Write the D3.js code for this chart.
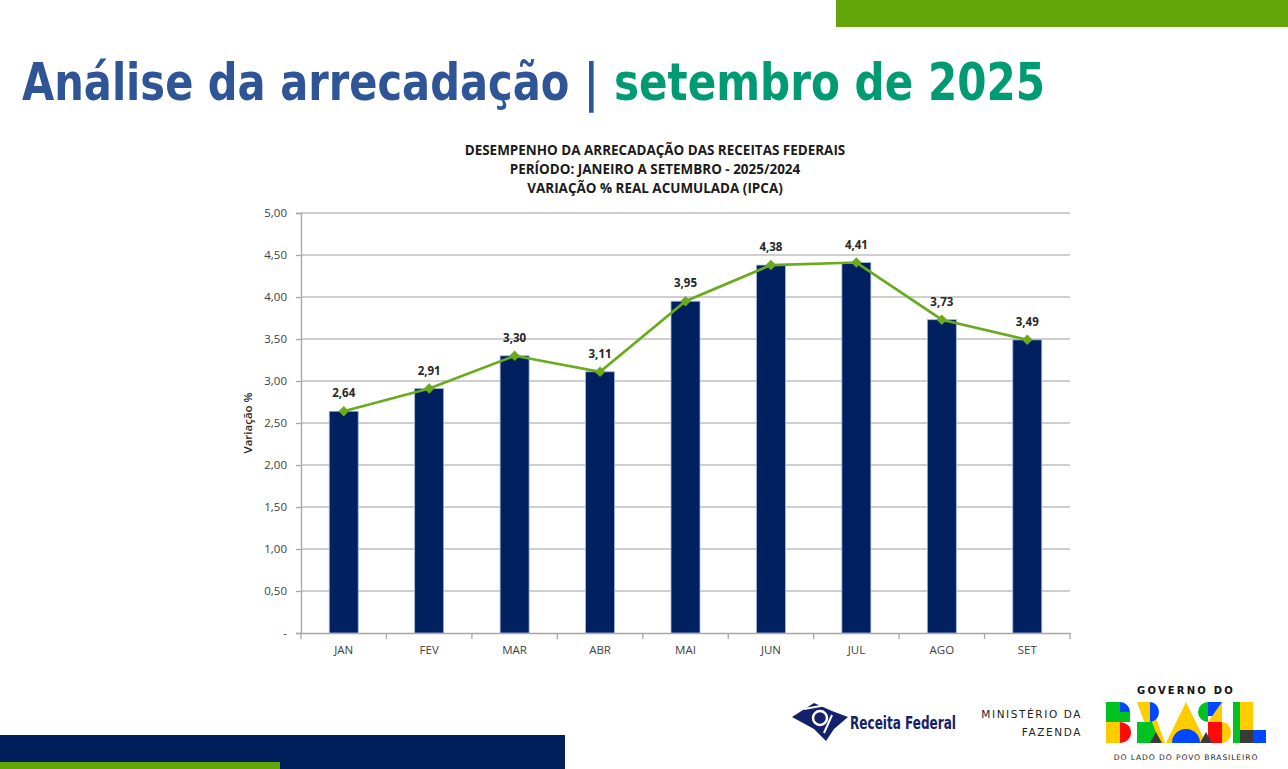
<!DOCTYPE html>
<html>
<head>
<meta charset="utf-8">
<script src="https://cdn.jsdelivr.net/npm/d3@7"></script>
<style>
  html, body { margin: 0; padding: 0; background: #fff; }
  svg { display: block; }
</style>
</head>
<body>
<svg id="chart" width="1288" height="769"></svg>
<script>
// ---- data ----
const categories = ["JAN", "FEV", "MAR", "ABR", "MAI", "JUN", "JUL", "AGO", "SET"];
const values = [2.64, 2.91, 3.30, 3.11, 3.95, 4.38, 4.41, 3.73, 3.49];
const yTicks = [0, 0.5, 1, 1.5, 2, 2.5, 3, 3.5, 4, 4.5, 5];
const chartTitleLines = [
  "DESEMPENHO DA ARRECADAÇÃO DAS RECEITAS FEDERAIS",
  "PERÍODO: JANEIRO A SETEMBRO - 2025/2024",
  "VARIAÇÃO % REAL ACUMULADA (IPCA)"
];
const pageTitle = ["Análise da arrecadação |", "setembro de 2025"];
const yAxisLabel = "Variação %";

const svg = d3.select("#chart");
const fmt = v => v === 0 ? "-" : v.toFixed(2).replace(".", ",");

// ---- page decorations ----
svg.append("rect").attr("x", 836).attr("y", 0).attr("width", 452).attr("height", 27).attr("fill", "#62A60A");
svg.append("rect").attr("x", 0).attr("y", 735).attr("width", 565).attr("height", 34).attr("fill", "#001F5B");
svg.append("rect").attr("x", 0).attr("y", 762).attr("width", 280).attr("height", 7).attr("fill", "#62A60A");

// page title (two separate texts)
const titleFamily = "'DejaVu Sans Condensed', 'DejaVu Sans', sans-serif";
svg.append("text").attr("x", 22).attr("y", 100)
  .attr("font-family", titleFamily).attr("font-weight", "bold").attr("font-size", 51)
  .attr("textLength", 577).attr("lengthAdjust", "spacingAndGlyphs")
  .attr("fill", "#2F5597").text(pageTitle[0]);
svg.append("text").attr("x", 614).attr("y", 100)
  .attr("font-family", titleFamily).attr("font-weight", "bold").attr("font-size", 51)
  .attr("textLength", 431).attr("lengthAdjust", "spacingAndGlyphs")
  .attr("fill", "#009B72").text(pageTitle[1]);

// ---- chart ----
const margin = { left: 301, right: 1070, top: 213, bottom: 633 };
const x = d3.scaleBand().domain(categories).range([margin.left, margin.right]).paddingInner(0).paddingOuter(0);
const y = d3.scaleLinear().domain([0, 5]).range([margin.bottom, margin.top]);

// chart titles
const titleFont = "'Open Sans', 'DejaVu Sans', sans-serif";
const tg = svg.append("g");
const titleYs = [155, 174, 193];
chartTitleLines.forEach((t, i) => {
  tg.append("text").attr("x", 655).attr("y", titleYs[i]).attr("text-anchor", "middle")
    .attr("font-family", titleFont).attr("font-weight", "bold").attr("font-size", 12)
    .attr("fill", "#1a1a1a").text(t);
});
{
  const n = tg.select("text").node();
  const w = n.getComputedTextLength();
  const fs = 12 * 381 / w;
  tg.selectAll("text").attr("font-size", fs);
}

// gridlines
svg.append("g").selectAll("line").data(yTicks.filter(d => d > 0)).join("line")
  .attr("x1", margin.left).attr("x2", margin.right)
  .attr("y1", d => y(d)).attr("y2", d => y(d))
  .attr("stroke", "#BFBFBF").attr("stroke-width", 1.3);

// y axis
const yAxis = svg.append("g").attr("transform", `translate(${margin.left},0)`)
  .call(d3.axisLeft(y).tickValues(yTicks).tickFormat(fmt).tickSize(5).tickPadding(9));
yAxis.select(".domain").attr("stroke", "#A6A6A6").attr("stroke-width", 1.3);
yAxis.selectAll(".tick line").attr("stroke", "#A6A6A6").attr("stroke-width", 1.3);
yAxis.selectAll("text").attr("font-family", titleFont).attr("font-size", 11.5).attr("fill", "#404040");

// x axis
const xAxis = svg.append("g").attr("transform", `translate(0,${margin.bottom})`)
  .call(d3.axisBottom(x).tickSize(0).tickPadding(13));
xAxis.select(".domain").attr("stroke", "#A6A6A6").attr("stroke-width", 1.3);
xAxis.selectAll("text").attr("font-family", titleFont).attr("font-size", 11.5).attr("fill", "#404040");
// boundary ticks
const bounds = categories.map(c => x(c)).concat([x(categories[categories.length - 1]) + x.bandwidth()]);
xAxis.selectAll(".bound").data(bounds).join("line").attr("class", "bound")
  .attr("x1", d => d).attr("x2", d => d).attr("y1", 0).attr("y2", 6)
  .attr("stroke", "#A6A6A6").attr("stroke-width", 1.3);

// y label
svg.append("text").attr("transform", `translate(252,423) rotate(-90)`)
  .attr("text-anchor", "middle").attr("font-family", titleFont).attr("font-size", 11.5)
  .attr("font-weight", "600").attr("fill", "#262626").text(yAxisLabel);

// bars
const barW = 29;
svg.append("g").selectAll("rect").data(values).join("rect")
  .attr("x", (d, i) => x(categories[i]) + x.bandwidth() / 2 - barW / 2)
  .attr("y", d => y(d)).attr("width", barW).attr("height", d => y(0) - y(d))
  .attr("fill", "#002060").attr("stroke", "#A9B9D6").attr("stroke-width", 0.8);

// line
const cx = (i) => x(categories[i]) + x.bandwidth() / 2;
svg.append("path").datum(values)
  .attr("d", d3.line().x((d, i) => cx(i)).y(d => y(d)))
  .attr("fill", "none").attr("stroke", "#6AAB1E").attr("stroke-width", 2.6);

svg.append("g").selectAll("path").data(values).join("path")
  .attr("transform", (d, i) => `translate(${cx(i)},${y(d)})`)
  .attr("d", d3.symbol(d3.symbolDiamond2, 70))
  .attr("fill", "#6AAB1E");

// data labels
svg.append("g").selectAll("text").data(values).join("text")
  .attr("x", (d, i) => cx(i)).attr("y", d => y(d) - 14)
  .attr("text-anchor", "middle").attr("font-family", titleFont).attr("font-weight", "bold")
  .attr("font-size", 11.5).attr("fill", "#262626").text(fmt);

// ---- footer logos ----
// Receita Federal emblem
const rf = svg.append("g").attr("transform", "translate(820,721)");
rf.append("path").attr("d", "M-28,-4 L-6,-18 L12,-10 L28,-4 L14,8 L6,20 L-6,8 Z").attr("fill", "#14216B");
rf.append("circle").attr("cx", 0).attr("cy", -3).attr("r", 7).attr("fill", "none").attr("stroke", "#fff").attr("stroke-width", 2.5);
rf.append("path").attr("d", "M-16,-12 L6,-16").attr("stroke", "#fff").attr("stroke-width", 2);
rf.append("path").attr("d", "M12,-6 L4,12").attr("stroke", "#fff").attr("stroke-width", 2);
svg.append("text").attr("x", 850).attr("y", 729)
  .attr("font-family", "'DejaVu Sans Condensed', 'Liberation Sans', sans-serif").attr("font-weight", "bold")
  .attr("font-size", 18).attr("fill", "#14216B").attr("textLength", 106).attr("lengthAdjust", "spacingAndGlyphs")
  .text("Receita Federal");

// Ministério da Fazenda
["MINISTÉRIO DA", "FAZENDA"].forEach((t, i) => {
  svg.append("text").attr("x", 1082).attr("y", 718 + i * 18).attr("text-anchor", "end")
    .attr("font-family", "'DejaVu Sans', sans-serif").attr("font-size", 10.5).attr("letter-spacing", 1.6)
    .attr("fill", "#222").text(t);
});

// Governo do Brasil
svg.append("text").attr("x", 1186).attr("y", 694).attr("text-anchor", "middle")
  .attr("font-family", "'DejaVu Sans', sans-serif").attr("font-weight", "bold").attr("font-size", 10)
  .attr("letter-spacing", 2.2).attr("fill", "#111").text("GOVERNO DO");
svg.append("text").attr("x", 1186).attr("y", 760).attr("text-anchor", "middle")
  .attr("font-family", "'DejaVu Sans', sans-serif").attr("font-size", 7.6)
  .attr("letter-spacing", 0.9).attr("fill", "#222").text("DO LADO DO POVO BRASILEIRO");

const gb = svg.append("g");
const G = "#00C220", Y = "#FFCC00", B = "#0047FF", R = "#FF0A0A", K = "#3A3A3A";
// B
gb.append("rect").attr("x", 1106).attr("y", 702).attr("width", 14).attr("height", 20).attr("fill", G);
gb.append("rect").attr("x", 1106).attr("y", 722).attr("width", 14).attr("height", 21).attr("fill", Y);
gb.append("path").attr("d", "M1120,702 A10,10 0 0 1 1120,722 Z").attr("fill", B);
gb.append("path").attr("d", "M1120,722 A11,10.5 0 0 1 1120,743 Z").attr("fill", R);
gb.append("rect").attr("x", 1120).attr("y", 712).attr("width", 10).attr("height", 10).attr("fill", G);
// R
gb.append("path").attr("d", "M1137,702 L1150,702 L1165,743 L1152,743 Z").attr("fill", Y);
gb.append("path").attr("d", "M1150,702 A9,10 0 0 1 1150,722 Z").attr("fill", B);
gb.append("path").attr("d", "M1137,722 L1152,722 L1160,743 L1137,743 Z").attr("fill", G);
gb.append("path").attr("d", "M1150,743 L1156,732 L1162,743 Z").attr("fill", K);
// A
gb.append("path").attr("d", "M1186,702 L1206,743 L1166,743 Z").attr("fill", Y);
gb.append("path").attr("d", "M1172,743 A14,14 0 0 1 1200,743 Z").attr("fill", B);
// S
gb.append("rect").attr("x", 1208).attr("y", 702).attr("width", 14).attr("height", 14).attr("fill", B);
gb.append("path").attr("d", "M1222,702 L1222,722 L1208,722 Z").attr("fill", Y);
gb.append("rect").attr("x", 1208).attr("y", 722).attr("width", 14).attr("height", 21).attr("fill", R);
gb.append("path").attr("d", "M1208,722 A10,10 0 0 1 1208,702 Z").attr("fill", G);
gb.append("path").attr("d", "M1222,722 A9,10.5 0 0 1 1222,743 Z").attr("fill", Y);
gb.append("path").attr("d", "M1200,743 L1206,732 L1212,743 Z").attr("fill", K);
// I
gb.append("rect").attr("x", 1233).attr("y", 702).attr("width", 10).attr("height", 41).attr("fill", G);
// L
gb.append("rect").attr("x", 1240).attr("y", 702).attr("width", 13).attr("height", 28).attr("fill", Y);
gb.append("rect").attr("x", 1240).attr("y", 730).attr("width", 13).attr("height", 13).attr("fill", K);
gb.append("rect").attr("x", 1253).attr("y", 730).attr("width", 13).attr("height", 13).attr("fill", B);
</script>
</body>
</html>
